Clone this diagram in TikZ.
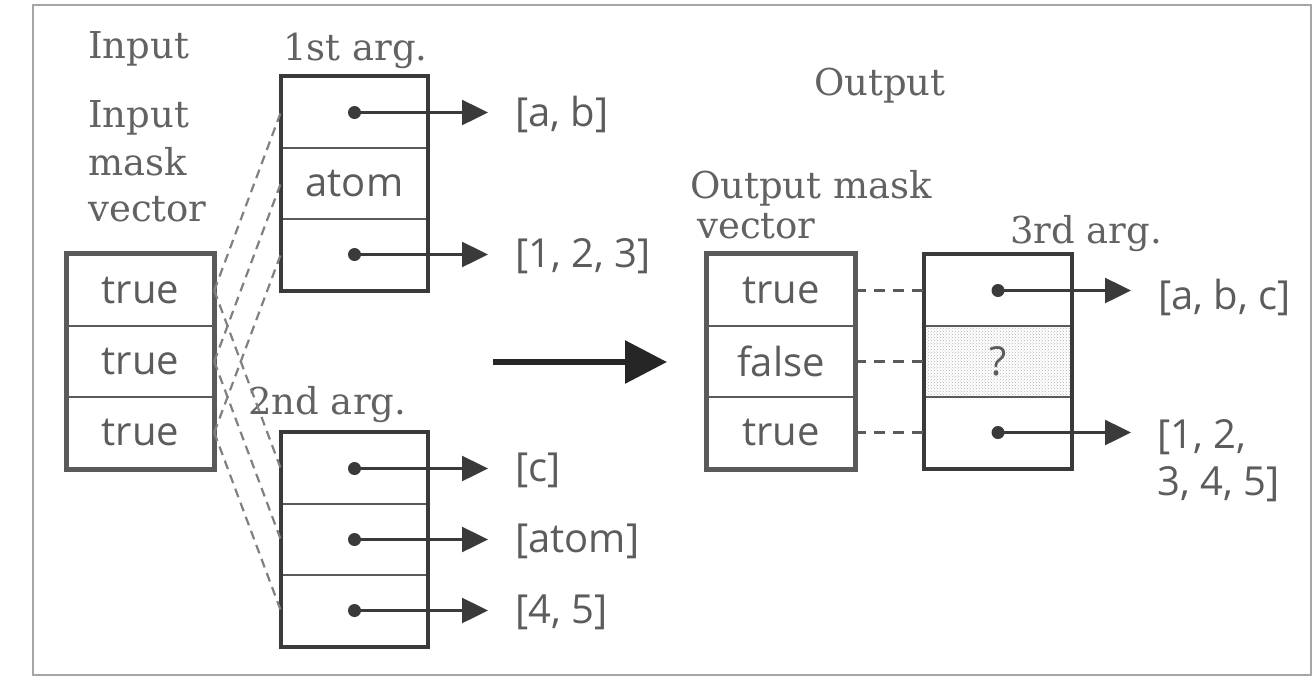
\documentclass[tikz,border=0pt]{standalone}
\usepackage{fontspec}
\setmainfont{DejaVu Serif}
\newfontfamily\cellfont{Open Sans}
\usetikzlibrary{arrows.meta,patterns}
\definecolor{txt}{HTML}{5C5C5C}
\definecolor{lbl}{HTML}{626262}
\definecolor{boxc}{HTML}{3A3A3A}
\definecolor{divc}{HTML}{5A5A5A}
\definecolor{fanc}{HTML}{808080}
\tikzset{
  cell/.style={draw=divc, line width=2.5, minimum width=145, minimum height=71, inner sep=0,
    font=\cellfont\fontsize{40}{44}\selectfont, text=txt},
  outline/.style={draw=boxc, line width=4},
  maskoutline/.style={draw=divc, line width=5},
  head/.style={font=\fontsize{37}{44}\selectfont, text=lbl, inner sep=0},
  lab/.style={font=\cellfont\fontsize{40}{47}\selectfont, text=txt, inner sep=0, anchor=west, align=left},
  dot/.style={circle, fill=boxc, inner sep=0, minimum size=13},
  ptr/.style={draw=boxc, line width=2.5, -{Triangle[length=26,width=25]}, shorten >=27},
  fan/.style={draw=fanc, line width=2.2, dash pattern=on 9 off 6},
  link/.style={draw=divc, line width=2.5, dash pattern=on 11 off 8},
  bigarrow/.style={draw=black!85, line width=6, -{Triangle[length=42,width=42]}},
  frame/.style={draw=gray!70, line width=1.5}
}
\begin{document}
\begin{tikzpicture}[x=1pt,y=-1pt]
\useasboundingbox (0,0) rectangle (1314,681);
\draw[frame] (33,5) rectangle (1311,675);

% headings
\node[head, anchor=base west] (hin) at (88,58) {Input};
\node[head, anchor=base west] (hm1) at (88,127) {Input};
\node[head, anchor=base west] (hm2) at (88,175) {mask};
\node[head, anchor=base west] (hm3) at (88,221) {vector};
\node[head, anchor=base west] (h1) at (283,60) {1st arg.};
\node[head, anchor=base west] (h2) at (248,414) {2nd arg.};
\node[head, anchor=base west] (hout) at (814,95) {Output};
\node[head, anchor=base west] (hom1) at (690,198) {Output mask};
\node[head, anchor=base west] (hom2) at (697,238) {vector};
\node[head, anchor=base west] (h3) at (1010,243) {3rd arg.};

% input mask vector
\node[cell] (m1) at (140.5,290.5) {true};
\node[cell] (m2) at (140.5,361.5) {true};
\node[cell] (m3) at (140.5,432.5) {true};
\draw[maskoutline] (m1.north west) rectangle (m3.south east);

% 1st arg
\node[cell] (a1) at (354.5,112.5) {};
\node[cell] (a2) at (354.5,183.5) {atom};
\node[cell] (a3) at (354.5,254.5) {};
\draw[outline] (a1.north west) rectangle (a3.south east);

% 2nd arg
\node[cell] (b1) at (354.5,468.5) {};
\node[cell] (b2) at (354.5,539.5) {};
\node[cell] (b3) at (354.5,610.5) {};
\draw[outline] (b1.north west) rectangle (b3.south east);

% fan lines
\foreach \i in {1,2,3}{
  \draw[fan] (m\i.east) -- (a\i.west);
  \draw[fan] (m\i.east) -- (b\i.west);
}

% pointers of 1st arg
\node[dot] (a1d) at (a1) {};
\node[dot] (a3d) at (a3) {};
\node[lab] (la1) at (515,114) {[a, b]};
\node[lab] (la3) at (515,256) {[1, 2, 3]};
\draw[ptr] (a1d.center) -- (a1d -| la1.west);
\draw[ptr] (a3d.center) -- (a3d -| la3.west);

% pointers of 2nd arg
\node[dot] (b1d) at (b1) {};
\node[dot] (b2d) at (b2) {};
\node[dot] (b3d) at (b3) {};
\node[lab] (lb1) at (515,470) {[c]};
\node[lab] (lb2) at (515,541) {[atom]};
\node[lab] (lb3) at (515,612) {[4, 5]};
\draw[ptr] (b1d.center) -- (b1d -| lb1.west);
\draw[ptr] (b2d.center) -- (b2d -| lb2.west);
\draw[ptr] (b3d.center) -- (b3d -| lb3.west);

% big arrow
\coordinate (bs) at (493,362);
\coordinate (be) at (667,362);
\draw[bigarrow] (bs) -- (be);

% output mask vector
\node[cell, minimum width=146] (o1) at (781,290.5) {true};
\node[cell, minimum width=146] (o2) at (781,361.5) {false};
\node[cell, minimum width=146] (o3) at (781,432.5) {true};
\draw[maskoutline] (o1.north west) rectangle (o3.south east);

% 3rd arg
\node[cell, minimum width=146] (c1) at (998,290.5) {};
\node[cell, minimum width=146, pattern=crosshatch dots, pattern color=gray!60] (c2) at (998,361.5) {?};
\node[cell, minimum width=146] (c3) at (998,432.5) {};
\draw[outline] (c1.north west) rectangle (c3.south east);

\foreach \i in {1,2,3}{
  \draw[link] (o\i.east) -- (c\i.west);
}

\node[dot] (c1d) at (c1) {};
\node[dot] (c3d) at (c3) {};
\node[lab] (lc1) at (1158,297) {[a, b, c]};
\node[lab] (lc3) at (1157,461) {[1, 2,\\3, 4, 5]};
\draw[ptr] (c1d.center) -- (c1d -| lc1.west);
\draw[ptr, shorten >=26] (c3d.center) -- (c3d -| lc3.west);
\end{tikzpicture}
\end{document}
